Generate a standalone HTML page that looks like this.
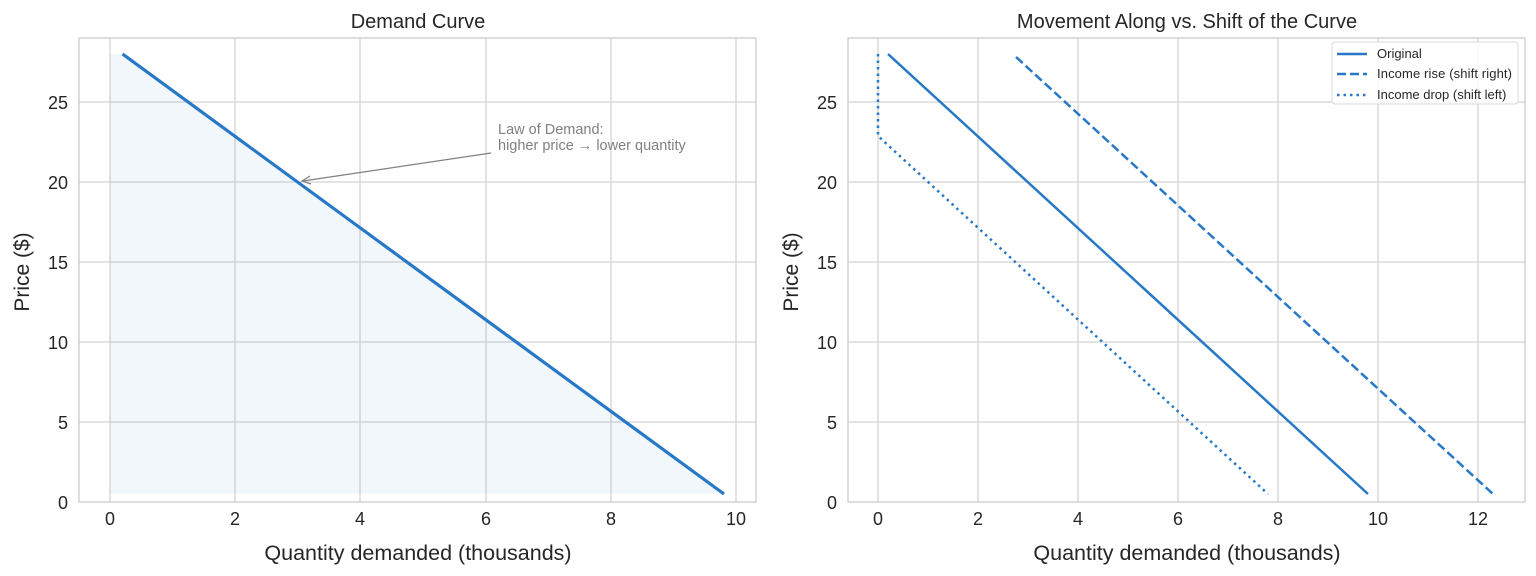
<!DOCTYPE html>
<html><head><meta charset="utf-8"><style>body{margin:0;background:#fff}svg{display:block}text{font-family:"Liberation Sans",sans-serif;fill:#262626}</style></head><body>
<svg width="1536" height="576" xmlns="http://www.w3.org/2000/svg">
<g stroke="#d4d4d4" stroke-width="1.3">
<line x1="110" y1="38" x2="110" y2="502"/><line x1="235" y1="38" x2="235" y2="502"/><line x1="360" y1="38" x2="360" y2="502"/><line x1="486" y1="38" x2="486" y2="502"/><line x1="611" y1="38" x2="611" y2="502"/><line x1="736" y1="38" x2="736" y2="502"/>
<line x1="79" y1="422" x2="756" y2="422"/><line x1="79" y1="342" x2="756" y2="342"/><line x1="79" y1="262" x2="756" y2="262"/><line x1="79" y1="182" x2="756" y2="182"/><line x1="79" y1="102" x2="756" y2="102"/>
<line x1="878" y1="38" x2="878" y2="502"/><line x1="978" y1="38" x2="978" y2="502"/><line x1="1078" y1="38" x2="1078" y2="502"/><line x1="1178" y1="38" x2="1178" y2="502"/><line x1="1278" y1="38" x2="1278" y2="502"/><line x1="1378" y1="38" x2="1378" y2="502"/><line x1="1478" y1="38" x2="1478" y2="502"/>
<line x1="848" y1="422" x2="1525" y2="422"/><line x1="848" y1="342" x2="1525" y2="342"/><line x1="848" y1="262" x2="1525" y2="262"/><line x1="848" y1="182" x2="1525" y2="182"/><line x1="848" y1="102" x2="1525" y2="102"/>
</g>
<polygon points="110,54 122.5,54 724,494 110,494" fill="#2878c8" fill-opacity="0.06"/>
<line x1="122.5" y1="54" x2="724" y2="494" stroke="#2878c8" stroke-width="3.2"/>
<line x1="491" y1="153" x2="303" y2="181" stroke="#808080" stroke-width="1.2"/>
<path d="M310,176 L302,181 L311,184" fill="none" stroke="#808080" stroke-width="1.2"/>
<text x="498" y="134" font-size="14.5" style="fill:#808080">Law of Demand:</text>
<text x="498" y="150" font-size="14.5" style="fill:#808080">higher price → lower quantity</text>
<rect x="79" y="38" width="677" height="464" fill="none" stroke="#cccccc" stroke-width="1.3"/>
<line x1="888" y1="54" x2="1368" y2="494" stroke="#2878c8" stroke-width="2.5"/>
<line x1="1016" y1="57" x2="1493" y2="494" stroke="#2878c8" stroke-width="2.5" stroke-dasharray="9,4"/>
<polyline points="878,54 878,136 1268,494" fill="none" stroke="#2878c8" stroke-width="2.5" stroke-dasharray="2.5,4"/>
<rect x="848" y="38" width="677" height="464" fill="none" stroke="#cccccc" stroke-width="1.3"/>
<rect x="1332" y="42" width="186" height="62" rx="3" fill="#fff" fill-opacity="0.85" stroke="#d8d8d8"/>
<line x1="1337" y1="54" x2="1367" y2="54" stroke="#2878c8" stroke-width="2.5"/>
<line x1="1337" y1="74" x2="1367" y2="74" stroke="#2878c8" stroke-width="2.5" stroke-dasharray="9,4"/>
<line x1="1337" y1="95" x2="1367" y2="95" stroke="#2878c8" stroke-width="2.5" stroke-dasharray="2.5,4"/>
<text x="1377" y="58" font-size="13">Original</text>
<text x="1377" y="78" font-size="13" textLength="135">Income rise (shift right)</text>
<text x="1377" y="99" font-size="13">Income drop (shift left)</text>
<g font-size="18" text-anchor="middle">
<text x="110" y="525">0</text><text x="235" y="525">2</text><text x="360" y="525">4</text><text x="486" y="525">6</text><text x="611" y="525">8</text><text x="736" y="525">10</text>
<text x="878" y="525">0</text><text x="978" y="525">2</text><text x="1078" y="525">4</text><text x="1178" y="525">6</text><text x="1278" y="525">8</text><text x="1378" y="525">10</text><text x="1478" y="525">12</text>
<text x="418" y="560" font-size="21.5">Quantity demanded (thousands)</text>
<text x="1187" y="560" font-size="21.5">Quantity demanded (thousands)</text>
<text x="418" y="28" font-size="20">Demand Curve</text>
<text x="1187" y="28" font-size="20">Movement Along vs. Shift of the Curve</text>
<text transform="translate(29,272) rotate(-90)" font-size="21">Price ($)</text>
<text transform="translate(798,272) rotate(-90)" font-size="21">Price ($)</text>
</g>
<g font-size="18" text-anchor="end">
<text x="68" y="509">0</text><text x="68" y="429">5</text><text x="68" y="349">10</text><text x="68" y="269">15</text><text x="68" y="189">20</text><text x="68" y="109">25</text>
<text x="837" y="509">0</text><text x="837" y="429">5</text><text x="837" y="349">10</text><text x="837" y="269">15</text><text x="837" y="189">20</text><text x="837" y="109">25</text>
</g>
</svg>
</body></html>
